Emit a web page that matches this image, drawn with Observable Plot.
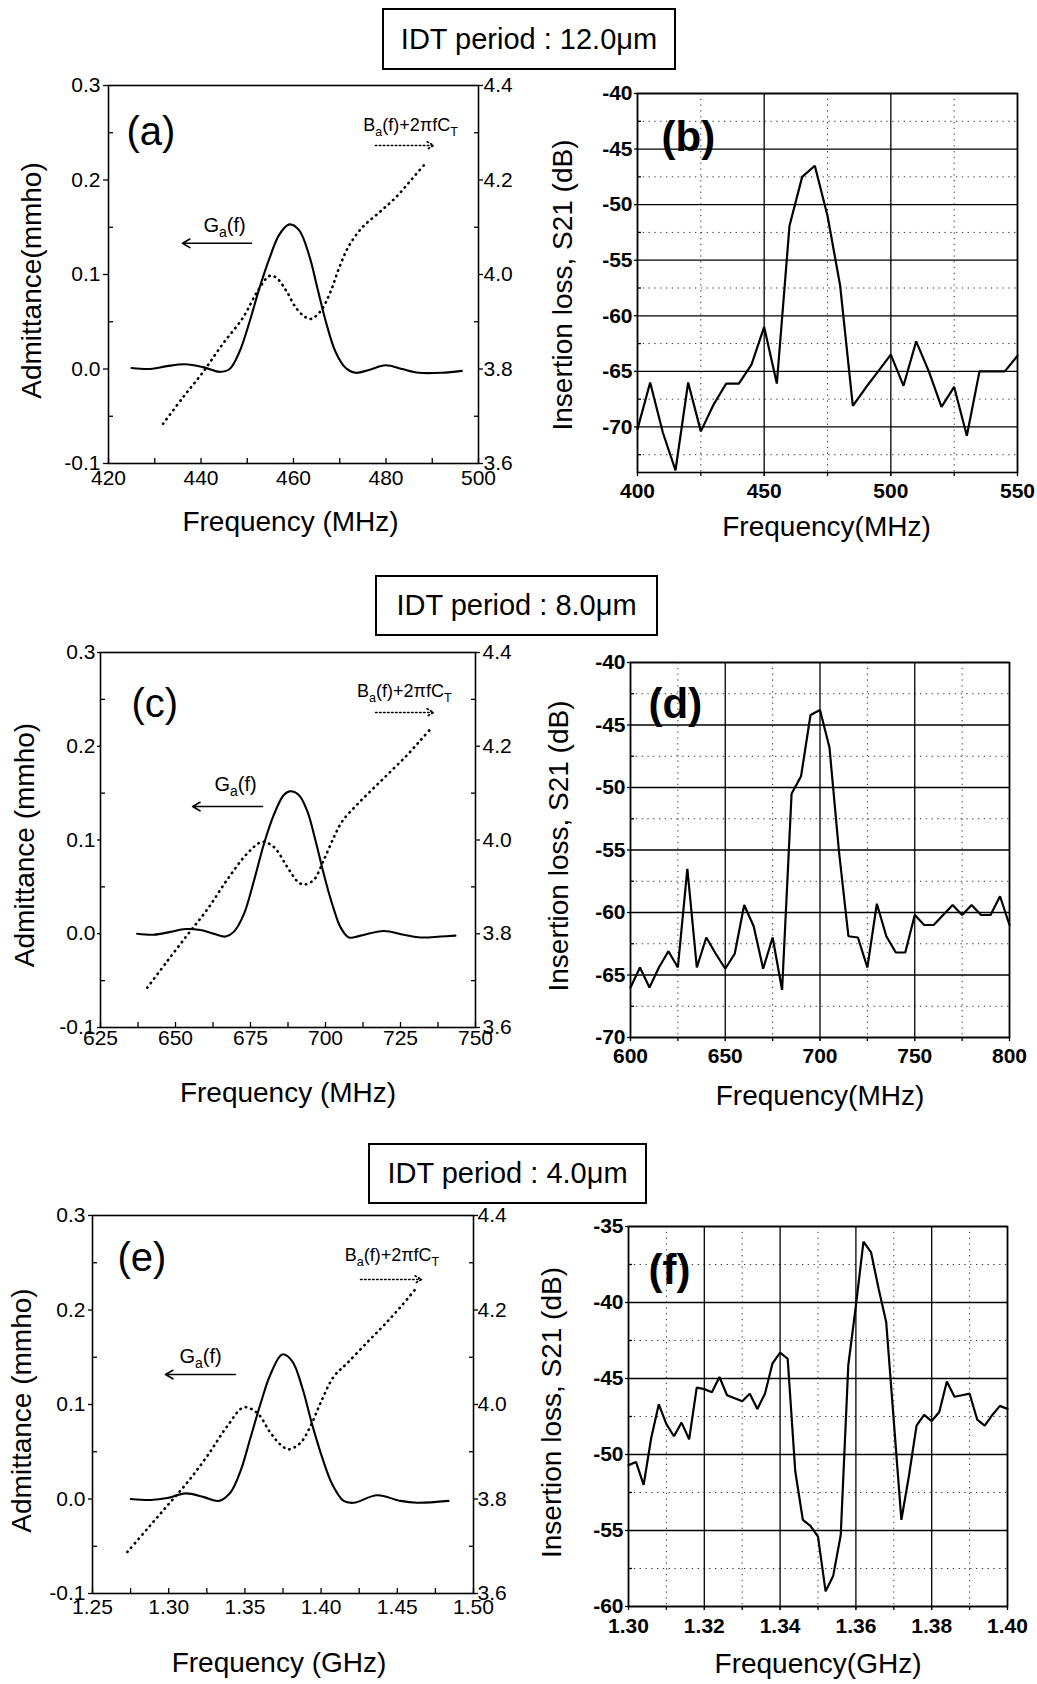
<!DOCTYPE html>
<html><head><meta charset="utf-8">
<script src="https://cdn.jsdelivr.net/npm/d3@7"></script>
<script src="https://cdn.jsdelivr.net/npm/@observablehq/plot@0.6"></script>
<style>
body{margin:0;background:#fff;}
#root{position:relative;width:1037px;height:1684px;background:#fff;font-family:"Liberation Sans",Arial,Helvetica,sans-serif;color:#000;}
.box{position:absolute;z-index:5;background:#fff;border:2px solid #000;box-sizing:border-box;display:flex;align-items:center;justify-content:center;font-size:29px;white-space:nowrap;}
.panel{position:absolute;z-index:1;}
</style></head><body><div id="root"></div>
<script>
// ---------------- data ----------------
const periodTitles = ["IDT period : 12.0μm", "IDT period : 8.0μm", "IDT period : 4.0μm"];
const panelLabels = ["(a)", "(b)", "(c)", "(d)", "(e)", "(f)"];
const gaLabel = "G_a(f)";
const baLabel = "B_a(f)+2πfC_T";
const admittanceTitles = ["Admittance(mmho)", "Admittance (mmho)", "Admittance (mmho)"];
const lossTitle = "Insertion loss, S21 (dB)";
const freqTitles = ["Frequency (MHz)", "Frequency(MHz)", "Frequency (MHz)", "Frequency(MHz)", "Frequency (GHz)", "Frequency(GHz)"];

// admittance axes
const admTicks = [-0.1, 0, 0.1, 0.2, 0.3];
const admMinor = [-0.05, 0.05, 0.15, 0.25];
const rightTickLabels = ["3.6", "3.8", "4.0", "4.2", "4.4"];

// (a) 12 um : G_a(f) [MHz, mmho] and B_a(f)+2pifC_T [MHz, right-axis value]
const gaA = [[425,0.001],[429,0.000],[432.6,0.003],[436.5,0.005],[440.4,0.002],[444,-0.003],[446.2,0.000],[448.3,0.018],[450.5,0.050],[452.6,0.085],[454.8,0.117],[456.9,0.142],[459.1,0.153],[461.2,0.147],[463.4,0.120],[465.2,0.085],[467,0.050],[469.1,0.018],[471.3,0.001],[473.4,-0.004],[476.3,-0.001],[479.9,0.004],[483.5,0.000],[487.1,-0.004],[492.1,-0.004],[496.4,-0.002]];
const baA = [[431.8,3.684],[436.1,3.740],[440.4,3.793],[444.7,3.853],[449.1,3.909],[452.3,3.966],[454.8,3.997],[456.2,3.994],[458.4,3.966],[460.5,3.930],[462.5,3.910],[463.8,3.906],[465.9,3.923],[468.1,3.966],[469.9,4.015],[472.0,4.061],[474.9,4.100],[478.5,4.131],[482.1,4.163],[485.6,4.202],[488.7,4.237]];
// (c) 8 um
const gaC = [[637.2,0.000],[642.8,-0.001],[648.3,0.002],[653.3,0.005],[658.3,0.004],[662.8,0.000],[666.7,-0.003],[669.4,0.002],[672.8,0.021],[676.1,0.056],[679.4,0.095],[682.8,0.127],[686.1,0.148],[688.3,0.152],[691.1,0.148],[693.9,0.131],[696.7,0.099],[699.4,0.064],[702.2,0.032],[705.0,0.007],[707.8,-0.004],[711.7,-0.002],[719.4,0.003],[726.1,-0.001],[731.7,-0.004],[738.3,-0.003],[743.3,-0.002]];
const baC = [[640.6,3.685],[647.2,3.741],[653.9,3.797],[660.6,3.852],[667.2,3.915],[673.9,3.971],[678.9,3.996],[682.8,3.985],[687.2,3.943],[690.6,3.912],[692.8,3.905],[696.1,3.915],[699.4,3.957],[702.8,4.006],[705.6,4.040],[710.6,4.076],[716.1,4.111],[721.7,4.146],[727.2,4.181],[731.7,4.213],[735.6,4.241]];
// (e) 4 um (GHz)
const gaE = [[1.2751,0.000],[1.2882,-0.001],[1.2991,0.001],[1.3111,0.006],[1.3231,0.002],[1.3330,-0.002],[1.3406,0.007],[1.3472,0.030],[1.3537,0.065],[1.3603,0.101],[1.3668,0.132],[1.3745,0.153],[1.3810,0.146],[1.3876,0.118],[1.3941,0.079],[1.4007,0.044],[1.4072,0.016],[1.4148,-0.002],[1.4214,-0.004],[1.4367,0.004],[1.4520,-0.002],[1.4629,-0.004],[1.4836,-0.002]];
const baE = [[1.2729,3.688],[1.2860,3.737],[1.2991,3.786],[1.3122,3.835],[1.3253,3.891],[1.3384,3.954],[1.3493,3.994],[1.3581,3.982],[1.3668,3.940],[1.3734,3.915],[1.3788,3.905],[1.3865,3.919],[1.3930,3.954],[1.3996,4.003],[1.4083,4.059],[1.4170,4.087],[1.4301,4.131],[1.4410,4.167],[1.4520,4.206],[1.4629,4.248]];

// (b) S21, 12 um
const freqB = [400,405,410,415,420,425,430,435,440,445,450,455,460,465,470,475,480,485,490,495,500,505,510,515,520,525,530,535,540,545,550];
const s21B = [-70.2,-66.0,-70.5,-73.9,-66.0,-70.4,-68.0,-66.1,-66.1,-64.4,-61.0,-66.1,-51.9,-47.5,-46.5,-51.0,-57.3,-68.1,-66.5,-65.0,-63.5,-66.3,-62.3,-65.0,-68.2,-66.4,-70.8,-65.0,-65.0,-65.0,-63.6];
// (d) S21, 8 um
const freqD = [600,605,610,615,620,625,630,635,640,645,650,655,660,665,670,675,680,685,690,695,700,705,710,715,720,725,730,735,740,745,750,755,760,765,770,775,780,785,790,795,800];
const s21D = [-66.0,-64.4,-66.0,-64.4,-63.1,-64.4,-56.5,-64.4,-62.0,-63.3,-64.5,-63.3,-59.4,-61.1,-64.5,-62.0,-66.2,-50.5,-49.1,-44.2,-43.8,-46.8,-55.1,-61.9,-62.0,-64.4,-59.3,-61.9,-63.2,-63.2,-60.2,-61.0,-61.0,-60.2,-59.4,-60.2,-59.4,-60.2,-60.2,-58.7,-61.0];
// (f) S21, 4 um (GHz)
const freqF = [1.300,1.302,1.304,1.306,1.308,1.310,1.312,1.314,1.316,1.318,1.320,1.322,1.324,1.326,1.328,1.330,1.332,1.334,1.336,1.338,1.340,1.342,1.344,1.346,1.348,1.350,1.352,1.354,1.356,1.358,1.360,1.362,1.364,1.366,1.368,1.370,1.372,1.374,1.376,1.378,1.380,1.382,1.384,1.386,1.388,1.390,1.392,1.394,1.396,1.398,1.400];
const s21F = [-50.7,-50.5,-52.0,-48.9,-46.7,-48.0,-48.8,-47.9,-49.0,-45.6,-45.7,-45.9,-44.9,-46.1,-46.3,-46.5,-46.0,-47.0,-46.0,-44.0,-43.3,-43.7,-51.1,-54.3,-54.7,-55.4,-59.0,-58.0,-55.3,-44.1,-40.2,-36.0,-36.7,-39.1,-41.3,-47.8,-54.3,-51.4,-48.1,-47.4,-47.8,-47.2,-45.2,-46.2,-46.1,-46.0,-47.7,-48.1,-47.4,-46.8,-47.0];

// tick sets
const xMajorA = [420,440,460,480,500], xSmallA = [420,430,440,450,460,470,480,490,500];
const xMajorC = [625,650,675,700,725,750], xSmallC = [625,637.5,650,662.5,675,687.5,700,712.5,725,737.5,750];
const xMajorE = [1.25,1.30,1.35,1.40,1.45,1.50], xSmallE = [1.25,1.275,1.30,1.325,1.35,1.375,1.40,1.425,1.45,1.475,1.50];
const xMajorB = [400,450,500,550], xMinorB = [425,475,525];
const yMajorB = [-40,-45,-50,-55,-60,-65,-70], yMinorB = [-42.5,-47.5,-52.5,-57.5,-62.5,-67.5,-72.5];
const xMajorD = [600,650,700,750,800], xMinorD = [625,675,725,775];
const yMajorD = [-40,-45,-50,-55,-60,-65,-70], yMinorD = [-42.5,-47.5,-52.5,-57.5,-62.5,-67.5];
const xMajorF = [1.30,1.32,1.34,1.36,1.38,1.40], xMinorF = [1.31,1.33,1.35,1.37,1.39];
const yMajorF = [-35,-40,-45,-50,-55,-60], yMinorF = [-37.5,-42.5,-47.5,-52.5,-57.5];

// annotation anchors (data units)
const annA = {g: {x: 445.1, y: 0.152}, gArrow: {x1: 450.9, x2: 436.0, y: 0.133}, b: {x: 485.3, y: 0.258}, bArrow: {x1: 477.7, x2: 490.3, y: 0.2365}};
const annC = {g: {x: 670.0, y: 0.1587}, gArrow: {x1: 679.0, x2: 655.7, y: 0.1357}, b: {x: 726.3, y: 0.2584}, bArrow: {x1: 716.7, x2: 736.0, y: 0.236}};
const annE = {g: {x: 1.3209, y: 0.1508}, gArrow: {x1: 1.3438, x2: 1.2979, y: 0.1317}, b: {x: 1.4465, y: 0.2582}, bArrow: {x1: 1.4259, x2: 1.4659, y: 0.2323}};

// ---------------- layout / styles ----------------
const FONT = '"Liberation Sans", Arial, Helvetica, sans-serif';
const TICK_FS = 21;
const boxes = [
  {left: 382, top: 8, width: 294, height: 62},
  {left: 375, top: 575, width: 283, height: 61},
  {left: 368, top: 1143, width: 279, height: 61}
];
const layouts = {
  a: {left:0, top:60, w:520, h:500, ml:108, mr:42, mt:25, mb:97, xPad:7, yTS:5, yPad:3, rTS:4, rPad:1, yt:[-76,6], xt:[-3,48], lb:[18,47]},
  b: {left:520, top:60, w:517, h:500, ml:117, mr:20, mt:33, mb:88, xPad:11, yt:[-74,2], xt:[-1,44], lb:[24,44]},
  c: {left:0, top:620, w:520, h:500, ml:100, mr:45, mt:32, mb:93, xPad:3, yTS:3, yPad:2, rTS:4, rPad:3, yt:[-75,5], xt:[0,55], lb:[31,52]},
  d: {left:520, top:620, w:517, h:500, ml:110, mr:28, mt:42, mb:83, xPad:11, yt:[-71,-4], xt:[0,48], lb:[18,42]},
  e: {left:0, top:1190, w:520, h:494, ml:92, mr:47, mt:25, mb:91, xPad:6, yTS:4, yPad:3, rTS:4, rPad:0, yt:[-70,6], xt:[-4,59], lb:[25,43]},
  f: {left:520, top:1190, w:517, h:494, ml:108, mr:30, mt:36, mb:78, xPad:12, yt:[-76,-4], xt:[0,47], lb:[20,44]}
};

function subscripts(svg) {
  svg.querySelectorAll("text").forEach(t => {
    const s = t.textContent;
    if (!s.includes("_")) return;
    const parts = s.split(/_(.)/);
    t.textContent = "";
    let down = false;
    parts.forEach((p, i) => {
      if (!p) return;
      const ts = document.createElementNS("http://www.w3.org/2000/svg", "tspan");
      ts.textContent = p;
      if (i % 2 === 1) { ts.setAttribute("font-size", "70%"); ts.setAttribute("dy", "5"); down = true; }
      else if (down) { ts.setAttribute("dy", "-5"); down = false; }
      t.appendChild(ts);
    });
  });
}

function titleMarks(L, xTitle, yTitle, label, bold) {
  return [
    Plot.text([yTitle], {frameAnchor: "left", rotate: -90, dx: L.yt[0], dy: L.yt[1], fontSize: 28, textAnchor: "middle", lineAnchor: "middle"}),
    Plot.text([xTitle], {frameAnchor: "bottom", dx: L.xt[0], dy: L.xt[1], fontSize: 28, textAnchor: "middle", lineAnchor: "top"}),
    Plot.text([label], {frameAnchor: "top-left", dx: L.lb[0], dy: L.lb[1], fontSize: bold ? 42 : 40, fontWeight: bold ? "bold" : "normal", textAnchor: "start", lineAnchor: "middle"})
  ];
}

function admPanel(L, xDomain, xMajor, xSmall, xFmt, ga, ba, ann, label, xTitle, yTitle) {
  const gaData = ga.map(([f, g]) => ({f, g}));
  const baData = ba.map(([f, b]) => ({f, y: (b - 3.8) / 2}));
  return Plot.plot({
    width: L.w, height: L.h, marginLeft: L.ml, marginRight: L.mr, marginTop: L.mt, marginBottom: L.mb,
    style: {fontFamily: FONT, fontSize: TICK_FS + "px", overflow: "visible", background: "transparent", color: "black"},
    x: {domain: xDomain, axis: null, label: null},
    y: {domain: [-0.1, 0.3], axis: null, label: null},
    marks: [
      Plot.axisX(xSmall, {tickSize: 5, dy: -5, tickFormat: () => "", label: null, strokeWidth: 1.3}),
      Plot.axisX(xMajor, {tickSize: 0, tickPadding: L.xPad, tickFormat: xFmt, label: null, fontSize: TICK_FS}),
      Plot.axisY(admTicks, {anchor: "left", tickSize: L.yTS, tickPadding: L.yPad, tickFormat: d => d.toFixed(1), label: null, fontSize: TICK_FS, strokeWidth: 1.3}),
      Plot.axisY(admMinor, {anchor: "left", tickSize: 5, dx: 5, tickFormat: () => "", label: null, strokeWidth: 1.3}),
      Plot.axisY(admTicks, {anchor: "right", tickSize: L.rTS, tickPadding: L.rPad, tickFormat: d => rightTickLabels[admTicks.indexOf(d)], label: null, fontSize: TICK_FS, strokeWidth: 1.3}),
      Plot.axisY(admMinor, {anchor: "right", tickSize: 5, dx: -5, tickFormat: () => "", label: null, strokeWidth: 1.3}),
      Plot.frame({stroke: "black", strokeWidth: 1.6}),
      Plot.line(gaData, {x: "f", y: "g", curve: "catmull-rom", stroke: "black", strokeWidth: 2.1}),
      Plot.line(baData, {x: "f", y: "y", curve: "catmull-rom", stroke: "black", strokeWidth: 2.6, strokeDasharray: "0.5,5.2", strokeLinecap: "round"}),
      Plot.text([ann.g], {x: "x", y: "y", text: () => gaLabel, fontSize: 20, textAnchor: "middle", lineAnchor: "middle"}),
      Plot.arrow([ann.gArrow], {x1: "x1", x2: "x2", y1: "y", y2: "y", stroke: "black", strokeWidth: 1.6, headLength: 8}),
      Plot.text([ann.b], {x: "x", y: "y", text: () => baLabel, fontSize: 18, textAnchor: "middle", lineAnchor: "middle"}),
      Plot.arrow([ann.bArrow], {x1: "x1", x2: "x2", y1: "y", y2: "y", stroke: "black", strokeWidth: 1.6, headLength: 7, strokeDasharray: "1.5,2.5"}),
      ...titleMarks(L, xTitle, yTitle, label, false)
    ]
  });
}

function lossPanel(L, xDomain, yDomain, xMajor, xMinor, yMajor, yMinor, xFmt, freqs, vals, label, xTitle) {
  const data = freqs.map((f, i) => ({f, s: vals[i]}));
  const dotted = {stroke: "#333", strokeOpacity: 1, strokeWidth: 1, strokeDasharray: "1.3,4.5"};
  return Plot.plot({
    width: L.w, height: L.h, marginLeft: L.ml, marginRight: L.mr, marginTop: L.mt, marginBottom: L.mb,
    style: {fontFamily: FONT, fontSize: TICK_FS + "px", overflow: "visible", background: "transparent", color: "black"},
    x: {domain: xDomain, axis: null, label: null},
    y: {domain: yDomain, axis: null, label: null},
    marks: [
      Plot.ruleX(xMinor, dotted),
      Plot.ruleY(yMinor, dotted),
      Plot.ruleX(xMajor, {stroke: "black", strokeWidth: 1.3}),
      Plot.ruleY(yMajor, {stroke: "black", strokeWidth: 1.3}),
      Plot.axisX(xMajor.concat(xMinor), {tickSize: 4, tickFormat: () => "", label: null, strokeWidth: 1.3}),
      Plot.axisX(xMajor, {tickSize: 4, tickPadding: L.xPad - 4, tickFormat: xFmt, label: null, fontSize: TICK_FS, fontWeight: "bold"}),
      Plot.axisY(yMajor, {anchor: "left", tickSize: 3, tickPadding: 2, tickFormat: d => String(d), label: null, fontSize: TICK_FS, fontWeight: "bold", strokeWidth: 1.3}),
      Plot.axisY(yMinor, {anchor: "left", tickSize: 4, dx: 4, tickFormat: () => "", label: null, strokeWidth: 1.3}),
      Plot.frame({stroke: "black", strokeWidth: 1.6}),
      Plot.line(data, {x: "f", y: "s", stroke: "black", strokeWidth: 2.2, strokeLinejoin: "miter"}),
      ...titleMarks(L, xTitle, lossTitle, label, true)
    ]
  });
}

const root = document.getElementById("root");
const intFmt = d => String(d);
const twoFmt = d => d.toFixed(2);

const panels = [
  ["a", admPanel(layouts.a, [420, 500], xMajorA, xSmallA, intFmt, gaA, baA, annA, panelLabels[0], freqTitles[0], admittanceTitles[0])],
  ["b", lossPanel(layouts.b, [400, 550], [-74.1, -40], xMajorB, xMinorB, yMajorB, yMinorB, intFmt, freqB, s21B, panelLabels[1], freqTitles[1])],
  ["c", admPanel(layouts.c, [625, 750], xMajorC, xSmallC, intFmt, gaC, baC, annC, panelLabels[2], freqTitles[2], admittanceTitles[1])],
  ["d", lossPanel(layouts.d, [600, 800], [-70, -40], xMajorD, xMinorD, yMajorD, yMinorD, intFmt, freqD, s21D, panelLabels[3], freqTitles[3])],
  ["e", admPanel(layouts.e, [1.25, 1.5], xMajorE, xSmallE, twoFmt, gaE, baE, annE, panelLabels[4], freqTitles[4], admittanceTitles[2])],
  ["f", lossPanel(layouts.f, [1.30, 1.40], [-60, -35], xMajorF, xMinorF, yMajorF, yMinorF, twoFmt, freqF, s21F, panelLabels[5], freqTitles[5])]
];
panels.forEach(([k, svg]) => {
  const L = layouts[k];
  const div = document.createElement("div");
  div.className = "panel";
  Object.assign(div.style, {left: L.left + "px", top: L.top + "px", width: L.w + "px", height: L.h + "px"});
  div.appendChild(svg);
  root.appendChild(div);
  subscripts(svg);
});
boxes.forEach((b, i) => {
  const d = document.createElement("div");
  d.className = "box";
  Object.assign(d.style, {left: b.left + "px", top: b.top + "px", width: b.width + "px", height: b.height + "px"});
  d.textContent = periodTitles[i];
  root.appendChild(d);
});
</script>
</body></html>
